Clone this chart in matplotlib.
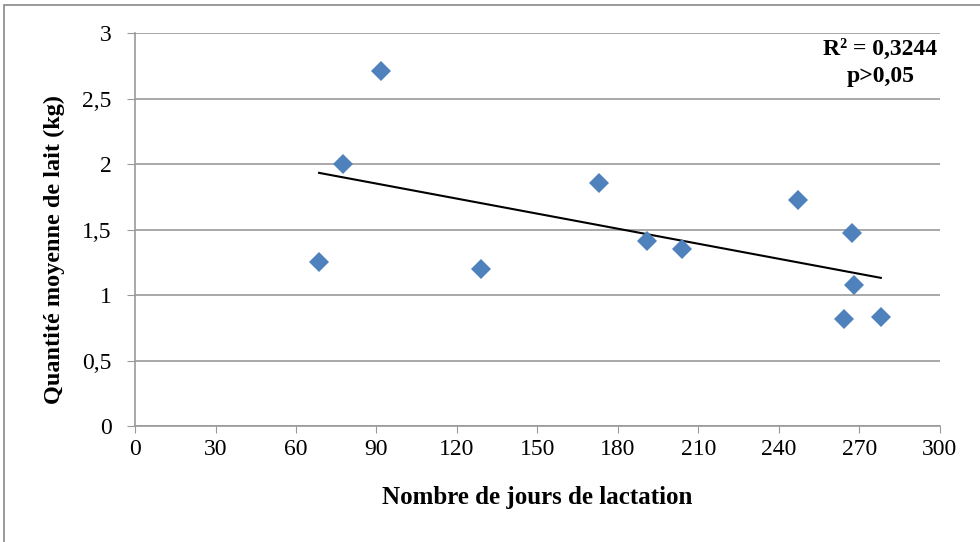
import numpy as np
import matplotlib.pyplot as plt
from matplotlib.patches import Rectangle

plt.rcParams['font.family'] = ['Liberation Serif', 'DejaVu Serif']

# Données
jours = [68.6, 77.5, 91.7, 128.9, 172.9, 190.8, 203.8, 247.1, 267.2, 268.0, 264.2, 278.0]
lait = [1.25, 2.00, 2.71, 1.20, 1.855, 1.41, 1.35, 1.725, 1.47, 1.08, 0.817, 0.83]
xticks = list(range(0, 301, 30))
yticks = [0, 0.5, 1, 1.5, 2, 2.5, 3]
ylabels = ['0', '0,5', '1', '1,5', '2', '2,5', '3']
annot = 'R² = 0,3244\np>0,05'

fig = plt.figure(figsize=(9.8, 5.42), dpi=100)
ax = fig.add_axes([0.1378, 0.214, 0.8212, 0.725])

ax.plot(jours, lait, linestyle='none', marker='D', markersize=10,
        color='#4F81BD', markeredgewidth=0, zorder=3)

# droite de tendance (moindres carrés)
a, b = np.polyfit(jours, lait, 1)
xs = np.array([min(jours), max(jours)])
ax.plot(xs, a * xs + b, color='black', linewidth=1.5, zorder=2)

ax.set_xlim(0, 300)
ax.set_ylim(0, 3)
ax.set_xticks(xticks)
ax.set_yticks(yticks)
ax.set_yticklabels(ylabels)
ax.grid(axis='y', color='#999999', linewidth=1.2)
ax.set_axisbelow(True)
for s in ['top', 'right']:
    ax.spines[s].set_visible(False)
for s in ['left', 'bottom']:
    ax.spines[s].set_color('#999999')
    ax.spines[s].set_linewidth(1.2)
ax.tick_params(axis='both', direction='out', color='#999999', labelsize=17)
ax.tick_params(axis='x', length=5, pad=4)
ax.tick_params(axis='y', length=6, pad=11)

ax.set_xlabel('Nombre de jours de lactation', fontsize=18, fontweight='bold')
ax.set_ylabel('Quantité moyenne de lait (kg)', fontsize=17.5, fontweight='bold')
ax.xaxis.set_label_coords(0.5, -0.183)
ax.yaxis.set_label_coords(-0.1, 0.45)
ax.xaxis.label.set_va('center')
ax.yaxis.label.set_va('center')

ax.text(0.997, 0.985, annot, transform=ax.transAxes, ha='right', va='top',
        multialignment='center', fontsize=17, fontweight='bold', linespacing=1.4)

fig.patches.append(Rectangle((0.004, -0.01), 1.2, 1.0, transform=fig.transFigure,
                             fill=False, edgecolor='#888888', linewidth=1.2))

fig.savefig('out.png', dpi=100)
